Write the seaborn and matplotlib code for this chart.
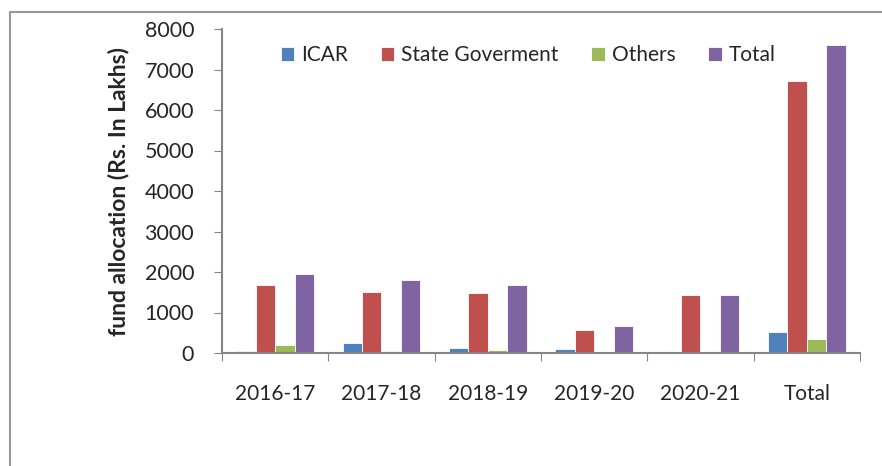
import seaborn as sns
import matplotlib.pyplot as plt
import pandas as pd
from matplotlib.lines import Line2D

# values (Rs. In Lakhs)
years = ['2016-17', '2017-18', '2018-19', '2019-20', '2020-21', 'Total']
icar = [40, 247, 123, 90, 0, 519]
state = [1680, 1506, 1473, 576, 1440, 6708]
others = [206, 49, 66, 0, 0, 337]
total = [1942, 1811, 1671, 675, 1440, 7605]

series = ['ICAR', 'State Goverment', 'Others', 'Total']
colors = ['#4F81BD', '#C0504D', '#9BBB59', '#8064A2']

df = pd.DataFrame({'year': years, 'ICAR': icar, 'State Goverment': state,
                   'Others': others, 'Total': total})
long = df.melt(id_vars='year', var_name='source', value_name='fund')

sns.set_style('white')
plt.rcParams['font.family'] = ['Lato', 'DejaVu Sans']

fig = plt.figure(figsize=(8.82, 4.66), dpi=100)
ax = fig.add_axes([222 / 882, 1 - 353 / 466, (860 - 222) / 882, (353 - 29) / 466])

sns.barplot(data=long, x='year', y='fund', hue='source', hue_order=series,
            order=years, palette=colors, width=0.73, saturation=1,
            edgecolor='white', linewidth=0.6, ax=ax)

ax.set_xlim(-0.5, len(years) - 0.5)
ax.set_ylim(0, 8000)
ax.set_yticks(range(0, 8001, 1000))
ax.tick_params(axis='y', labelsize=15.5, length=6, color='#868686', left=True, pad=14)

# group boundaries as ticks, labels at the centres
ax.set_xticks([i - 0.5 for i in range(len(years) + 1)])
ax.set_xticklabels([])
ax.set_xticks(range(len(years)), minor=True)
ax.set_xticklabels(years, minor=True, fontsize=15)
ax.tick_params(axis='x', which='major', length=6, color='#868686', bottom=True, direction='out')
ax.tick_params(axis='x', which='minor', length=0, pad=22)

ax.set_xlabel('')
ax.set_ylabel('fund allocation (Rs. In Lakhs)', fontsize=16.5, fontweight='bold', labelpad=11)

for side in ['top', 'right']:
    ax.spines[side].set_visible(False)
for side in ['left', 'bottom']:
    ax.spines[side].set_color('#868686')
    ax.spines[side].set_linewidth(1.5)

ax.legend(loc='upper center', bbox_to_anchor=(0.48, 0.975), ncol=4, frameon=False,
          fontsize=15, handlelength=0.65, handleheight=0.65, handletextpad=0.35,
          columnspacing=1.55, borderaxespad=0)

# outer chart frame (left and top edges visible)
fig.add_artist(Line2D([10 / 882, 10 / 882], [0, 1 - 12 / 466], color='#999999', lw=1.5))
fig.add_artist(Line2D([10 / 882, 1], [1 - 12 / 466, 1 - 12 / 466], color='#999999', lw=1.5))

fig.savefig('out.png', dpi=100)
